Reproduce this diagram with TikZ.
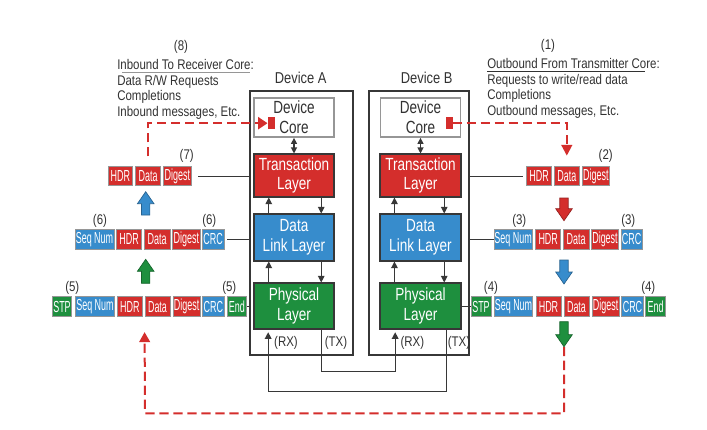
\documentclass[tikz,border=0pt]{standalone}
\usepackage{fontspec}
\setmainfont{Liberation Sans}
\newfontfamily\fpkt[FakeStretch=0.56]{Liberation Sans}
\newfontfamily\flayer[FakeStretch=0.77]{Liberation Sans}
\newfontfamily\flbl[FakeStretch=0.82]{Liberation Sans}
\usetikzlibrary{arrows.meta,calc}
\definecolor{pred}{RGB}{212,46,44}
\definecolor{pblue}{RGB}{55,140,204}
\definecolor{pgreen}{RGB}{30,143,62}
\definecolor{pedge}{RGB}{150,150,150}
\definecolor{pdark}{RGB}{55,55,55}
\definecolor{ptext}{RGB}{50,50,50}
\newcommand\pktbox[7]{\node[pkt, fill=#6, minimum width={(#3-#2)*0.75pt}, minimum height={(#5-#4)*0.75pt}] (#1) at ({(#2+#3)/2},{(#4+#5)/2}) {#7};}
\newcommand\laybox[7]{\node[lay, fill=#6, minimum width={(#3-#2)*0.75pt}, minimum height={(#5-#4)*0.75pt}] (#1) at ({(#2+#3)/2},{(#4+#5)/2}) {#7};}
% block arrows: x, tip y, tail y, colour
\newcommand\blkup[4]{\filldraw[fill=#4, draw=#4!70!black, line width=0.5pt] (#1-4.2,#3) -- (#1-4.2,#2+12) -- (#1-8.3,#2+12) -- (#1,#2) -- (#1+8.3,#2+12) -- (#1+4.2,#2+12) -- (#1+4.2,#3) -- cycle;}
\newcommand\blkdown[4]{\filldraw[fill=#4, draw=#4!70!black, line width=0.5pt] (#1-4.2,#3) -- (#1-4.2,#2-12) -- (#1-8.3,#2-12) -- (#1,#2) -- (#1+8.3,#2-12) -- (#1+4.2,#2-12) -- (#1+4.2,#3) -- cycle;}
\begin{document}
\begin{tikzpicture}[x=0.75pt,y=-0.75pt,
  pkt/.style={draw=pedge, line width=0.6pt, text=white, inner sep=0pt,
    font=\fpkt\fontsize{12}{13}\selectfont},
  lay/.style={draw=pdark, line width=0.8pt, text=white, inner sep=0pt, align=center,
    font=\flayer\fontsize{13.2}{14.8}\selectfont},
  devbox/.style={draw=pdark, line width=0.8pt},
  lbl/.style={text=ptext, inner sep=0pt, font=\flbl\fontsize{10.5}{12}\selectfont},
  wire/.style={draw=pdark, line width=0.9pt},
  tip/.style={-{Triangle[length=5pt,width=5pt]}},
  reddash/.style={draw=pred, line width=1.5pt, dash pattern=on 7pt off 3.5pt}
]
\useasboundingbox (0,0) rectangle (707,429);

% device frames
\node[devbox, minimum width={103*0.75pt}, minimum height={264*0.75pt}, inner sep=0pt] (devA) at (301.5,223) {};
\node[devbox, minimum width={100*0.75pt}, minimum height={264*0.75pt}, inner sep=0pt] (devB) at (419,223) {};
\node[lbl, font=\flbl\fontsize{11.8}{13}\selectfont] (labA) at (300.7,78) {Device A};
\node[lbl, font=\flbl\fontsize{11.8}{13}\selectfont] (labB) at (426.7,78) {Device B};

% layers A
\node[draw=pedge, line width=1.3pt, fill=white, text=ptext, align=center, inner sep=0pt,
  font=\flayer\fontsize{13.2}{15}\selectfont, minimum width={80*0.75pt}, minimum height={39*0.75pt}] (coreA) at (294,117.5) {Device\\Core};
\laybox{transA}{254}{334}{154}{197}{pred}{Transaction\\Layer}
\laybox{dllA}{254}{334}{214}{261}{pblue}{Data\\Link Layer}
\laybox{physA}{254}{334}{283}{329}{pgreen}{Physical\\Layer}
% layers B
\node[draw=pedge, line width=1.3pt, fill=white, text=ptext, align=center, inner sep=0pt,
  font=\flayer\fontsize{13.2}{15}\selectfont, minimum width={80*0.75pt}, minimum height={39*0.75pt}] (coreB) at (420.5,117.5) {Device\\Core};
\laybox{transB}{380}{461}{154}{197}{pred}{Transaction\\Layer}
\laybox{dllB}{380}{461}{214}{261}{pblue}{Data\\Link Layer}
\laybox{physB}{380}{461}{283}{329}{pgreen}{Physical\\Layer}

% inner arrows A
\draw[wire, line width=0.8pt, {Triangle[length=4.5pt,width=4.5pt]}-{Triangle[length=4.5pt,width=4.5pt]}] (coreA.south) -- (transA.north);
\draw[wire, line width=0.8pt, tip] ($(dllA.north west)+(15.3,0)$) -- ($(transA.south west)+(15.3,0)$);
\draw[wire, line width=0.8pt, tip] ($(transA.south east)+(-13.3,0)$) -- ($(dllA.north east)+(-13.3,0)$);
\draw[wire, line width=0.8pt, tip] ($(physA.north west)+(15.3,0)$) -- ($(dllA.south west)+(15.3,0)$);
\draw[wire, line width=0.8pt, tip] ($(dllA.south east)+(-13.3,0)$) -- ($(physA.north east)+(-13.3,0)$);
% inner arrows B
\draw[wire, line width=0.8pt, {Triangle[length=4.5pt,width=4.5pt]}-{Triangle[length=4.5pt,width=4.5pt]}] (coreB.south) -- (transB.north);
\draw[wire, line width=0.8pt, tip] ($(dllB.north west)+(15,0)$) -- ($(transB.south west)+(15,0)$);
\draw[wire, line width=0.8pt, tip] ($(transB.south east)+(-17.3,0)$) -- ($(dllB.north east)+(-17.3,0)$);
\draw[wire, line width=0.8pt, tip] ($(physB.north west)+(15,0)$) -- ($(dllB.south west)+(15,0)$);
\draw[wire, line width=0.8pt, tip] ($(dllB.south east)+(-17.3,0)$) -- ($(physB.north east)+(-17.3,0)$);

% RX / TX wires
\coordinate (rxA) at ($(physA.south west)+(14.7,0)$);
\coordinate (txA) at ($(physA.south east)+(-13.3,0)$);
\coordinate (rxB) at ($(physB.south west)+(15.7,0)$);
\coordinate (txB) at ($(physB.south east)+(-15,0)$);
\draw[wire, tip, shorten >=2pt] (txA) -- ++(0,41.7) -| (rxB);
\draw[wire, tip, shorten >=2pt] (txB) -- ++(0,61.7) -| (rxA);
\node[lbl] (rxlA) at (286,343) {(RX)};
\node[lbl] (txlA) at (336,343) {(TX)};
\node[lbl] (rxlB) at (412.3,343) {(RX)};
\node[lbl] (txlB) at (459,343) {(TX)};

% left packets
\pktbox{hdrL7}{108}{132.7}{166.7}{185.5}{pred}{HDR}
\pktbox{datL7}{135.7}{160.7}{166.7}{185.5}{pred}{Data}
\pktbox{digL7}{163}{191.7}{166.7}{185.5}{pred}{Digest}

\pktbox{seqL6}{75}{114}{229.3}{249.3}{pblue}{Seq Num}
\pktbox{hdrL6}{116.7}{141.7}{229.3}{249.3}{pred}{HDR}
\pktbox{datL6}{144.3}{170}{229.3}{249.3}{pred}{Data}
\pktbox{digL6}{172.7}{200}{229.3}{249.3}{pred}{Digest}
\pktbox{crcL6}{202.3}{224}{229.3}{249.3}{pblue}{CRC}

\pktbox{stpL5}{52.3}{71.7}{296.7}{316.7}{pgreen}{STP}
\pktbox{seqL5}{75.7}{114.3}{296.7}{316.7}{pblue}{Seq Num}
\pktbox{hdrL5}{117.3}{142.3}{296.7}{316.7}{pred}{HDR}
\pktbox{datL5}{145}{170}{296.7}{316.7}{pred}{Data}
\pktbox{digL5}{173}{200.3}{296.7}{316.7}{pred}{Digest}
\pktbox{crcL5}{202.3}{224.3}{296.7}{316.7}{pblue}{CRC}
\pktbox{endL5}{227}{246.7}{296.7}{316.7}{pgreen}{End}

% right packets
\pktbox{hdrR2}{526.7}{551.7}{166.7}{185.5}{pred}{HDR}
\pktbox{datR2}{554.3}{579.3}{166.7}{185.5}{pred}{Data}
\pktbox{digR2}{582.3}{609.3}{166.7}{185.5}{pred}{Digest}

\pktbox{seqR3}{494}{532.3}{229.3}{249.3}{pblue}{Seq Num}
\pktbox{hdrR3}{535.7}{560.7}{229.3}{249.3}{pred}{HDR}
\pktbox{datR3}{563.3}{589}{229.3}{249.3}{pred}{Data}
\pktbox{digR3}{591.7}{618.3}{229.3}{249.3}{pred}{Digest}
\pktbox{crcR3}{621}{642.3}{229.3}{249.3}{pblue}{CRC}

\pktbox{stpR4}{471}{491}{296.7}{316.7}{pgreen}{STP}
\pktbox{seqR4}{494.3}{532.7}{296.7}{316.7}{pblue}{Seq Num}
\pktbox{hdrR4}{536}{561}{296.7}{316.7}{pred}{HDR}
\pktbox{datR4}{564}{589}{296.7}{316.7}{pred}{Data}
\pktbox{digR4}{592.3}{619}{296.7}{316.7}{pred}{Digest}
\pktbox{crcR4}{621.7}{643.3}{296.7}{316.7}{pblue}{CRC}
\pktbox{endR4}{645.7}{665.7}{296.7}{316.7}{pgreen}{End}

% connectors from layers to packets
\draw[wire, shorten <=4.5pt] (digL7.east) -- (digL7.east -| devA.west);
\draw[wire, shorten <=2pt] (crcL6.east) -- (crcL6.east -| devA.west);
\draw[wire] (endL5.east) -- (endL5.east -| devA.west);
\draw[wire, shorten >=2.5pt] (hdrR2.west -| devB.east) -- (hdrR2.west);
\draw[wire] (seqR3.west -| devB.east) -- (seqR3.west);
\draw[wire] (stpR4.west -| physB.east) -- (stpR4.west);

% number labels
\node[lbl] (n8) at (181,47) {(8)};
\node[lbl] (n1) at (548,46) {(1)};
\node[lbl] (n7) at (186.7,156) {(7)};
\node[lbl] (n2) at (605.7,156) {(2)};
\node[lbl] (n6a) at (100,220.5) {(6)};
\node[lbl] (n6b) at (209.3,220.5) {(6)};
\node[lbl] (n3a) at (519.3,220.5) {(3)};
\node[lbl] (n3b) at (628.3,220.5) {(3)};
\node[lbl] (n5a) at (72.3,288.3) {(5)};
\node[lbl] (n5b) at (229.3,288.3) {(5)};
\node[lbl] (n4a) at (491,288.3) {(4)};
\node[lbl] (n4b) at (648.3,288.3) {(4)};

% text blocks
\node[lbl, anchor=base west] (tl1) at (117,69) {Inbound To Receiver Core:};
\node[lbl, anchor=base west] (tl2) at (117,85) {Data R/W Requests};
\node[lbl, anchor=base west] (tl3) at (117,100.7) {Completions};
\node[lbl, anchor=base west] (tl4) at (117,116) {Inbound messages, Etc.};
\draw[draw=pedge, line width=0.7pt] (122,72) -- (250,72);
\node[lbl, anchor=base west] (tr1) at (487,68.7) {Outbound From Transmitter Core:};
\node[lbl, anchor=base west] (tr2) at (487,84.3) {Requests to write/read data};
\node[lbl, anchor=base west] (tr3) at (487,99.5) {Completions};
\node[lbl, anchor=base west] (tr4) at (487,115) {Outbound messages, Etc.};
\draw[draw=ptext, line width=0.6pt] (487,71) -- (645,71);

% red dashed paths
\fill[pred] (267.5,117.3) rectangle (274.5,129);
\coordinate (sqAw) at (267.5,123.2);
\draw[reddash, -{Triangle[length=7pt,width=9pt]}, shorten <=7.5pt] (datL7.north) |- (sqAw);
\fill[pred] (445.7,117.3) rectangle (452.7,129);
\coordinate (sqBe) at (452.7,123.2);
\draw[reddash, -{Triangle[length=8pt,width=8pt]}, shorten >=8pt] (sqBe) -| (datR2.north);
\coordinate (gdn) at (564,346.7);
\coordinate (rtip) at ($(datL5.south west)+(0,15)$);
\draw[reddash, -{Triangle[length=7.5pt,width=8pt]}] (gdn) |- (145,413.3) -- (rtip);

% block arrows
\blkup{145.7}{191.7}{215}{pblue}
\blkup{145.7}{259.3}{283.3}{pgreen}
\blkdown{564}{220.7}{198}{pred}
\blkdown{564}{284}{260}{pblue}
\blkdown{564}{346.7}{321.7}{pgreen}
\end{tikzpicture}
\end{document}
